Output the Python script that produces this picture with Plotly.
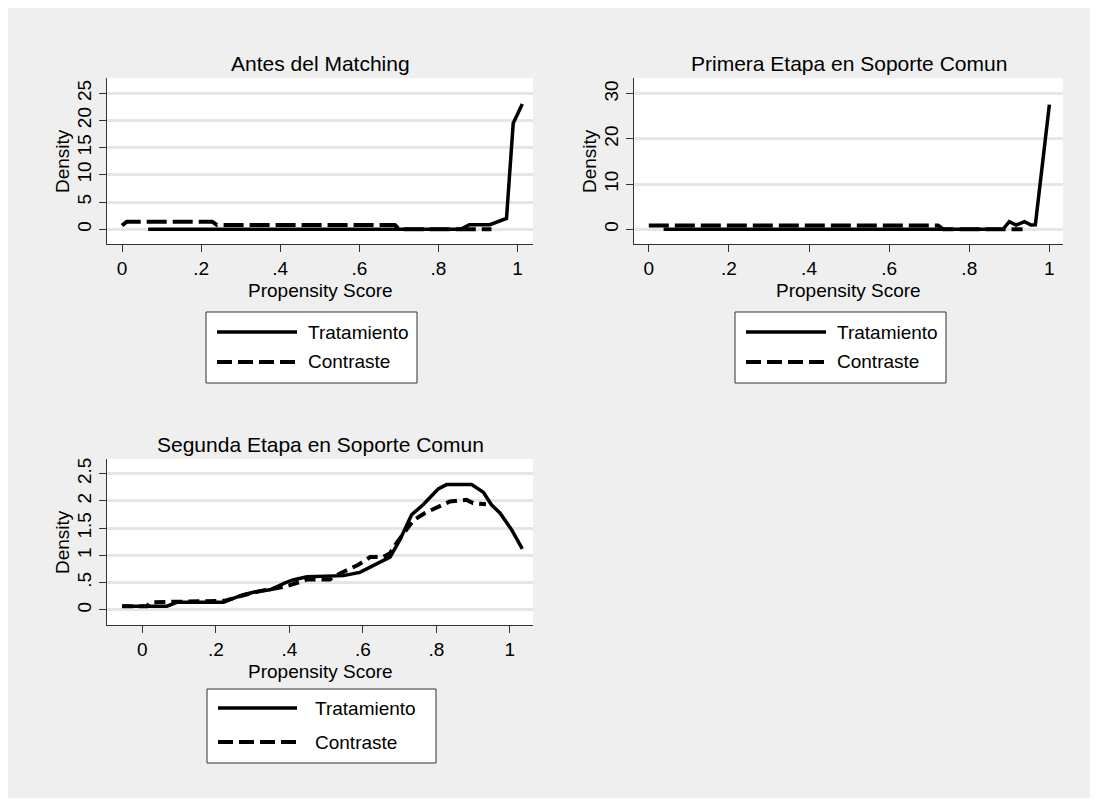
import plotly.graph_objects as go

# ---------------- data ----------------
titles = ["Antes del Matching", "Primera Etapa en Soporte Comun", "Segunda Etapa en Soporte Comun"]
series_names = ["Tratamiento", "Contraste"]

# Panel 1: Antes del Matching
x1_trat = [0.066, 0.856, 0.878, 0.930, 0.972, 0.989, 1.012]
y1_trat = [0.0, 0.0, 0.85, 0.85, 2.0, 19.5, 23.0]
x1_cont = [0.0, 0.012, 0.228, 0.240, 0.690, 0.700, 0.934]
y1_cont = [0.7, 1.4, 1.4, 0.77, 0.77, 0.0, 0.0]

# Panel 2: Primera Etapa en Soporte Comun
x2_trat = [0.037, 0.884, 0.900, 0.917, 0.938, 0.954, 0.965, 1.0]
y2_trat = [0.0, 0.0, 1.7, 0.95, 1.7, 0.95, 1.0, 27.6]
x2_cont = [0.0, 0.722, 0.735, 0.933]
y2_cont = [0.85, 0.85, 0.0, 0.0]

# Panel 3: Segunda Etapa en Soporte Comun
x3_trat = [-0.055, 0.067, 0.094, 0.221, 0.235, 0.275, 0.312, 0.348, 0.39, 0.41, 0.448, 0.547,
           0.592, 0.674, 0.701, 0.733, 0.764, 0.805, 0.828, 0.896, 0.928, 0.950, 0.973, 1.005, 1.034]
y3_trat = [0.07, 0.07, 0.14, 0.14, 0.18, 0.28, 0.34, 0.37, 0.50, 0.55, 0.61, 0.63,
           0.69, 0.97, 1.29, 1.75, 1.93, 2.22, 2.30, 2.30, 2.16, 1.93, 1.78, 1.47, 1.12]
x3_cont = [-0.055, 0.013, 0.022, 0.226, 0.27, 0.33, 0.39, 0.42, 0.45, 0.51, 0.538, 0.588,
           0.62, 0.655, 0.674, 0.692, 0.737, 0.769, 0.80, 0.837, 0.882, 0.90, 0.935]
y3_cont = [0.07, 0.07, 0.14, 0.17, 0.26, 0.36, 0.43, 0.50, 0.56, 0.56, 0.67, 0.83,
           0.97, 0.97, 1.04, 1.23, 1.64, 1.78, 1.87, 1.99, 2.02, 1.96, 1.94]

x_tickvals = [0, 0.2, 0.4, 0.6, 0.8, 1]
x_ticktext = ["0", ".2", ".4", ".6", ".8", "1"]
y1_tickvals = [0, 5, 10, 15, 20, 25]
y1_ticktext = ["0", "5", "10", "15", "20", "25"]
y2_tickvals = [0, 10, 20, 30]
y2_ticktext = ["0", "10", "20", "30"]
y3_tickvals = [0, 0.5, 1, 1.5, 2, 2.5]
y3_ticktext = ["0", ".5", "1", "1.5", "2", "2.5"]

# ---------------- layout helpers ----------------
W, H = 1082, 790
OFF = 8  # page body margin
FONT = "Liberation Sans, Arial, sans-serif"
BG = "#efefef"
AXC = "#333333"
GRID = "#e6e6e6"
TICK_SIZE = 19
TITLE_SIZE = 21
LEG_SIZE = 19


def px(x):
    return (x - OFF) / W


def py(y):
    return 1 - (y - OFF) / H


# plot areas in screen pixels (left, right, top, bottom)
areas = [(107, 533, 78, 244), (634, 1063, 78, 244), (107, 533, 459, 625)]
xranges = [[-0.038, 1.039], [-0.037, 1.034], [-0.096, 1.063]]
yranges = [[-2.7, 27.8], [-3.26, 33.5], [-0.276, 2.77]]
yticks = [(y1_tickvals, y1_ticktext), (y2_tickvals, y2_ticktext), (y3_tickvals, y3_ticktext)]
dashes = ["20px,6px", "20px,6px", "11px,6px"]
data = [((x1_trat, y1_trat), (x1_cont, y1_cont)),
        ((x2_trat, y2_trat), (x2_cont, y2_cont)),
        ((x3_trat, y3_trat), (x3_cont, y3_cont))]

fig = go.Figure()
layout = dict(
    width=W, height=H,
    margin=dict(l=0, r=0, t=0, b=0),
    paper_bgcolor=BG,
    plot_bgcolor="white",
    showlegend=False,
    font=dict(family=FONT, color="black", size=TICK_SIZE),
)

shapes = []
annotations = []

for i, (area, xr, yr, (ytv, ytt), dsh, (trat, cont)) in enumerate(
        zip(areas, xranges, yranges, yticks, dashes, data)):
    n = "" if i == 0 else str(i + 1)
    l, r, t, b = area
    layout["xaxis" + n] = dict(
        domain=[px(l), px(r)], range=xr, anchor="y" + n,
        tickvals=x_tickvals, ticktext=x_ticktext, ticks="outside", ticklen=7,
        tickcolor=AXC, showline=True, linecolor=AXC, linewidth=1, showgrid=False,
        zeroline=False, tickfont=dict(size=TICK_SIZE, family=FONT),
    )
    layout["yaxis" + n] = dict(
        domain=[py(b), py(t)], range=yr, anchor="x" + n,
        tickvals=ytv, ticktext=ytt, ticks="outside", ticklen=7, tickangle=-90,
        tickcolor=AXC, showline=True, linecolor=AXC, linewidth=1, showgrid=True,
        gridcolor=GRID, gridwidth=3, zeroline=False, tickfont=dict(size=TICK_SIZE, family=FONT),
    )
    fig.add_trace(go.Scatter(x=trat[0], y=trat[1], mode="lines", name=series_names[0],
                             line=dict(color="black", width=3.5), xaxis="x" + n, yaxis="y" + n))
    fig.add_trace(go.Scatter(x=cont[0], y=cont[1], mode="lines", name=series_names[1],
                             line=dict(color="black", width=4, dash=dsh), xaxis="x" + n, yaxis="y" + n))
    cx = (l + r) / 2
    annotations.append(dict(text=titles[i], xref="paper", yref="paper", x=px(cx), y=py(t - 15),
                            showarrow=False, xanchor="center", yanchor="middle",
                            font=dict(size=TITLE_SIZE, family=FONT)))
    annotations.append(dict(text="Density", xref="paper", yref="paper", x=px(l - 45), y=py((t + b) / 2),
                            showarrow=False, textangle=-90, xanchor="center", yanchor="middle",
                            font=dict(size=TICK_SIZE, family=FONT)))
    annotations.append(dict(text="Propensity Score", xref="paper", yref="paper", x=px(cx), y=py(b + 46),
                            showarrow=False, xanchor="center", yanchor="middle",
                            font=dict(size=TICK_SIZE, family=FONT)))

# legends: (left, right, top, bottom, line_x0, line_x1, text_x, y_solid, y_dash)
legends = [(206, 417, 312, 383, 217, 297, 306, 332, 362),
           (735, 946, 312, 383, 746, 826, 835, 332, 362),
           (207, 436, 689, 763, 218, 297, 313, 708, 742)]
for (l, r, t, b, lx0, lx1, tx, ys, yd) in legends:
    shapes.append(dict(type="rect", xref="paper", yref="paper", x0=px(l), x1=px(r), y0=py(b), y1=py(t),
                       fillcolor="white", line=dict(color=AXC, width=1)))
    shapes.append(dict(type="line", xref="paper", yref="paper", x0=px(lx0), x1=px(lx1), y0=py(ys), y1=py(ys),
                       line=dict(color="black", width=3.5)))
    shapes.append(dict(type="line", xref="paper", yref="paper", x0=px(lx0), x1=px(lx1), y0=py(yd), y1=py(yd),
                       line=dict(color="black", width=4, dash="15px,6px")))
    annotations.append(dict(text=series_names[0], xref="paper", yref="paper", x=px(tx), y=py(ys),
                            showarrow=False, xanchor="left", yanchor="middle",
                            font=dict(size=LEG_SIZE, family=FONT)))
    annotations.append(dict(text=series_names[1], xref="paper", yref="paper", x=px(tx), y=py(yd),
                            showarrow=False, xanchor="left", yanchor="middle",
                            font=dict(size=LEG_SIZE, family=FONT)))

layout["shapes"] = shapes
layout["annotations"] = annotations
fig.update_layout(**layout)
fig.write_html("out.html")
